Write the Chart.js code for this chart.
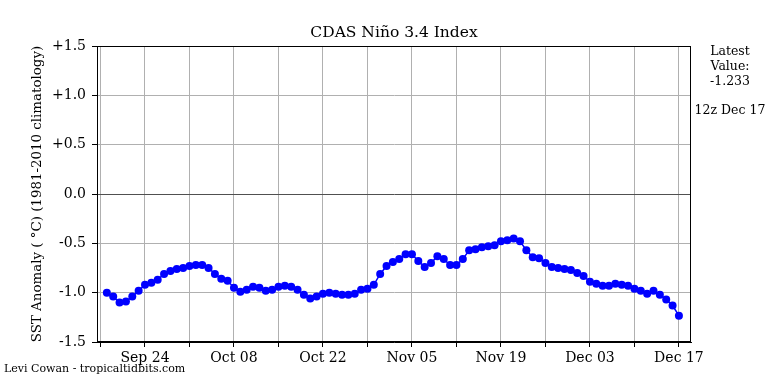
<!DOCTYPE html>
<html>
<head>
<meta charset="utf-8">
<title>CDAS Niño 3.4 Index</title>
<script src="https://cdn.jsdelivr.net/npm/chart.js@4"></script>
<style>
  html, body { margin: 0; padding: 0; background: #fff; }
  #ninoChart { display: block; }
</style>
</head>
<body>
<canvas id="ninoChart" width="768" height="384"></canvas>
<script>
'use strict';

// daily anomaly, 12z Sep 18 -> 12z Dec 17 (day 0 = Sep 18)
var anomaly = [
    -1.00, -1.04, -1.10, -1.09, -1.04, -0.98, -0.92, -0.90, -0.87, -0.81,
    -0.78, -0.76, -0.75, -0.73, -0.72, -0.72, -0.75, -0.81, -0.86, -0.88,
    -0.95, -0.99, -0.97, -0.94, -0.95, -0.98, -0.97, -0.94, -0.93, -0.94,
    -0.97, -1.02, -1.06, -1.04, -1.01, -1.00, -1.01, -1.02, -1.02, -1.01,
    -0.97, -0.96, -0.92, -0.81, -0.73, -0.69, -0.66, -0.61, -0.61, -0.68,
    -0.74, -0.70, -0.63, -0.66, -0.72, -0.72, -0.66, -0.57, -0.56, -0.54,
    -0.53, -0.52, -0.48, -0.47, -0.45, -0.48, -0.57, -0.64, -0.65, -0.70,
    -0.74, -0.75, -0.76, -0.77, -0.80, -0.83, -0.89, -0.91, -0.93, -0.93,
    -0.91, -0.92, -0.93, -0.96, -0.98, -1.01, -0.98, -1.02, -1.07, -1.13,
    -1.233
];

// weekly ticks (in days from Sep 18), labelled every two weeks
var tickDays = [-1, 6, 13, 20, 27, 34, 41, 48, 55, 62, 69, 76, 83, 90];
var tickLabels = ['', 'Sep 24', '', 'Oct 08', '', 'Oct 22', '', 'Nov 05', '', 'Nov 19', '', 'Dec 03', '', 'Dec 17'];

var yTicks = [-1.5, -1.0, -0.5, 0.0, 0.5, 1.0, 1.5];

var latestText = ['Latest', 'Value:', '-1.233'];
var latestTime = '12z Dec 17';

var serif = "'DejaVu Serif', 'Liberation Serif', serif";

var points = anomaly.map(function(v, i) {
    return {x: i, y: v};
});

//draw title, frame, side notes and credit
var extrasPlugin = {
    id: 'extras',
    afterDraw: function(chart) {
        var c = chart.ctx;
        var area = chart.chartArea;
        c.save();

        //frame round the plot
        c.strokeStyle = '#000';
        c.lineWidth = 1;
        c.strokeRect(area.left + 0.5, area.top + 0.5, area.right - area.left - 1, area.bottom - area.top - 1);

        c.fillStyle = '#000';
        c.textAlign = 'center';
        c.textBaseline = 'middle';
        c.font = '15.5px ' + serif;
        c.fillText('CDAS Niño 3.4 Index', (area.left + area.right) / 2, 33);

        c.font = '12.5px ' + serif;
        for (var i = 0; i < latestText.length; i++) {
            c.fillText(latestText[i], 730, 52 + i * 15);
        }
        c.fillText(latestTime, 730, 111);

        c.textAlign = 'left';
        c.font = '11px ' + serif;
        c.fillText('Levi Cowan - tropicaltidbits.com', 4, 369);

        c.restore();
    }
};

var ctx = document.getElementById('ninoChart').getContext('2d');

window.myChart = new Chart(ctx, {
    type: 'line',
    data: {
        datasets: [{
            data: points,
            borderColor: '#0000ff',
            backgroundColor: '#0000ff',
            borderWidth: 1.5,
            pointRadius: 4,
            pointBorderWidth: 0,
            pointBackgroundColor: '#0000ff',
            tension: 0
        }]
    },
    options: {
        responsive: false,
        animation: false,
        layout: {
            padding: {left: 0, top: 46, right: 77, bottom: 2}
        },
        plugins: {
            legend: {display: false},
            title: {display: false},
            tooltip: {enabled: false}
        },
        scales: {
            x: {
                type: 'linear',
                min: -1.55,
                max: 91.9,
                afterBuildTicks: function(scale) {
                    scale.ticks = tickDays.map(function(d) { return {value: d}; });
                },
                afterFit: function(scale) {
                    scale.height = 40;
                },
                grid: {
                    color: '#b0b0b0',
                    lineWidth: 1,
                    drawTicks: true,
                    tickLength: 5,
                    tickColor: '#000'
                },
                border: {color: '#000', width: 1},
                ticks: {
                    autoSkip: false,
                    maxRotation: 0,
                    padding: 3,
                    color: '#000',
                    font: {family: serif, size: 14},
                    callback: function(value) {
                        var idx = tickDays.indexOf(value);
                        return idx >= 0 ? tickLabels[idx] : '';
                    }
                }
            },
            y: {
                min: -1.5,
                max: 1.5,
                afterBuildTicks: function(scale) {
                    scale.ticks = yTicks.map(function(v) { return {value: v}; });
                },
                afterFit: function(scale) {
                    scale.width = 97;
                },
                grid: {
                    color: function(c) {
                        return (c.tick && c.tick.value === 0) ? '#505050' : '#b0b0b0';
                    },
                    lineWidth: 1,
                    drawTicks: true,
                    tickLength: 5,
                    tickColor: '#000'
                },
                border: {color: '#000', width: 1},
                title: {
                    display: true,
                    text: 'SST Anomaly ( °C) (1981-2010 climatology)',
                    color: '#000',
                    font: {family: serif, size: 13.4},
                    padding: {top: 29, bottom: 0}
                },
                ticks: {
                    padding: 6,
                    color: '#000',
                    font: {family: serif, size: 14},
                    callback: function(value) {
                        return value > 0 ? '+' + value.toFixed(1) : value.toFixed(1);
                    }
                }
            }
        }
    },
    plugins: [extrasPlugin]
});
</script>
</body>
</html>
